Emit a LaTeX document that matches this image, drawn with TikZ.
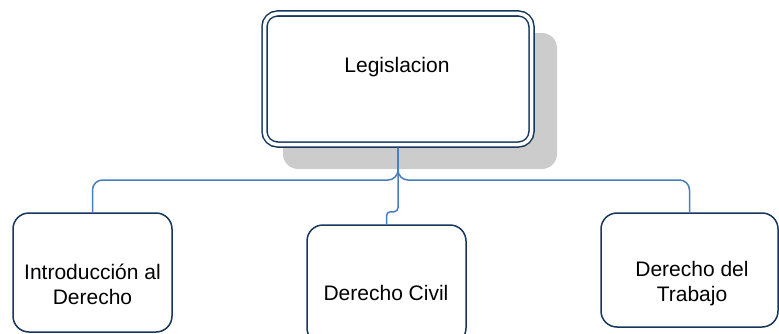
\documentclass[tikz,border=0pt]{standalone}
\usepackage{fontspec}
\setmainfont{Liberation Sans}
\definecolor{navy}{HTML}{17365D}
\definecolor{conncol}{HTML}{4A7EBB}
\definecolor{shadowgray}{HTML}{CCCCCC}
\begin{document}
\begin{tikzpicture}[x=1pt,y=1pt,
  mainbox/.style={draw=navy, line width=1.5pt, double=white, double distance=3.5pt,
    rounded corners=13pt, minimum width=267pt, minimum height=131pt, outer sep=3.25pt, inner sep=0pt},
  subbox/.style={draw=navy, line width=1.5pt, fill=white, rounded corners=16pt, inner sep=0pt, outer sep=0.75pt},
  txt/.style={font=\fontsize{21}{25}\selectfont, align=center, inner sep=0pt, text=black},
  conn/.style={draw=conncol, line width=1.5pt}
]
\useasboundingbox (0,0) rectangle (779,333);
\clip (0,0) rectangle (779,333);
% shadow
\fill[shadowgray, rounded corners=15pt] (283,300) rectangle (557,164);
% main box
\node[mainbox, fill=white] (main) at (398,254) {};
\node[txt] (maintxt) at (397,265.5) {Legislacion};
% sub boxes
\node[subbox, minimum width=159pt, minimum height=119pt] (left) at (92.5,60.5) {};
\node[subbox, minimum width=159pt, minimum height=119pt] (mid) at (386.5,48.5) {};
\node[subbox, minimum width=177pt, minimum height=114pt] (right) at (689.5,63) {};
\node[txt] (lefttxt) at (92.5,48.5) {Introducción al\\Derecho};
\node[txt] (midtxt) at (386,40.5) {Derecho Civil};
\node[txt] (righttxt) at (692,49) {Derecho del\\Trabajo};
% connectors
\draw[conn, rounded corners=10pt] (main.south) -- ++(0,-32.25) -| (left.north);
\draw[conn, rounded corners=10pt] (main.south) -- ++(0,-32.25) -| (right.north);
\draw[conn, rounded corners=4pt] (main.south) -- ++(0,-64) -| (mid.north);
\end{tikzpicture}
\end{document}
